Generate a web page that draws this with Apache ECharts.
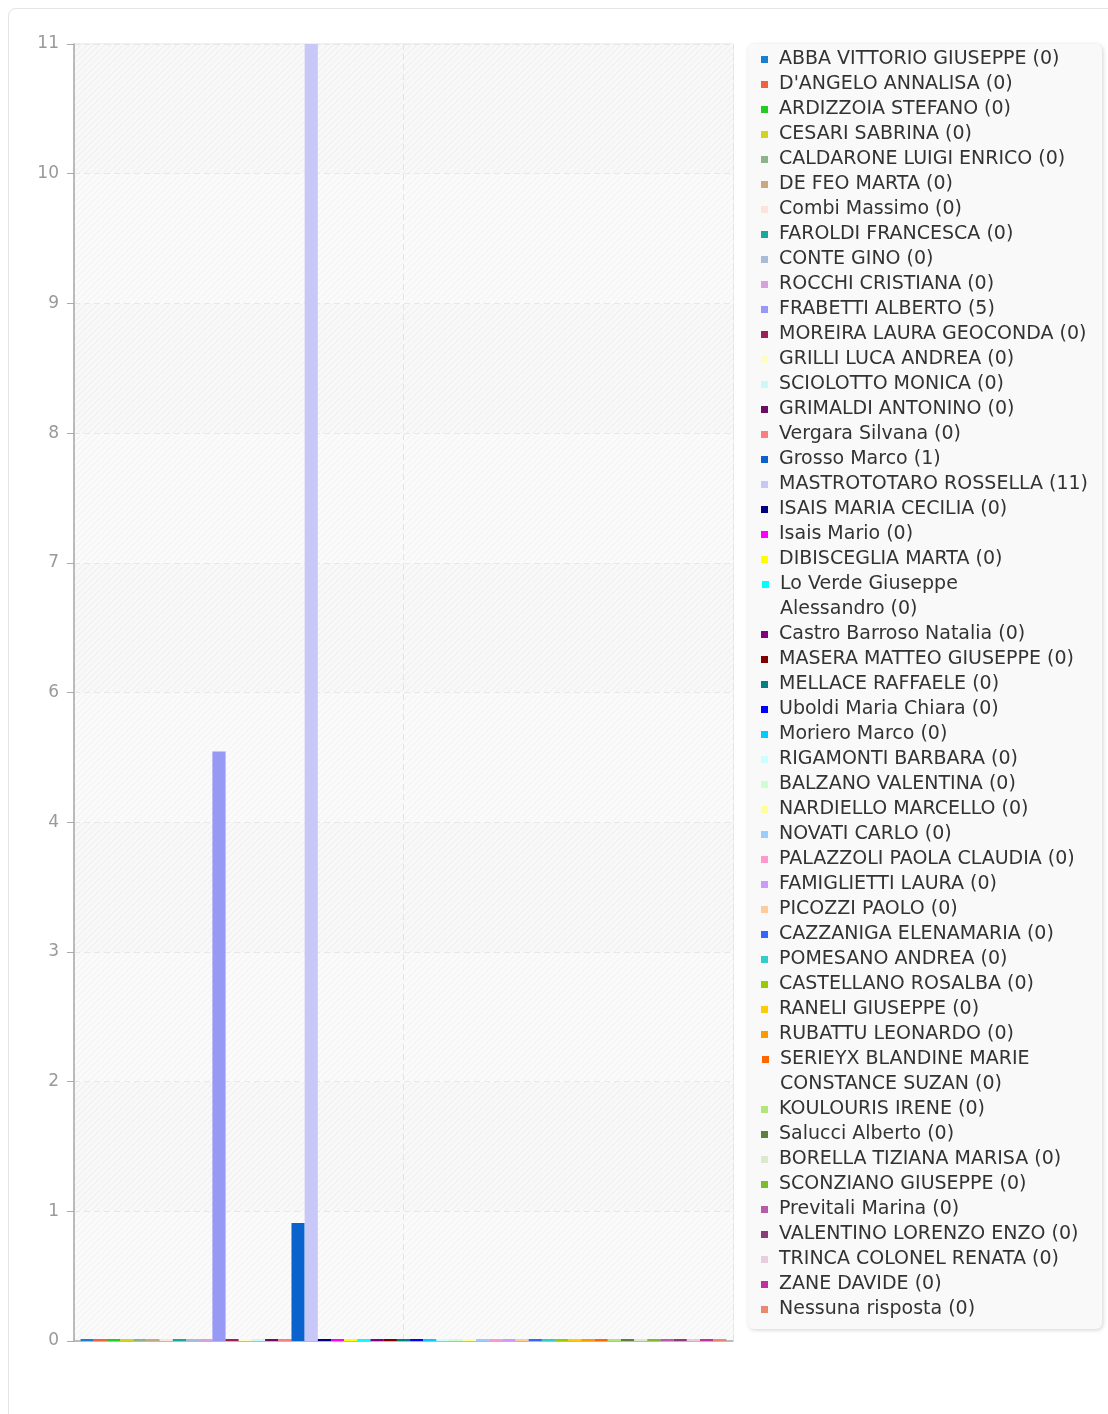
<!DOCTYPE html>
<html>
<head>
<meta charset="utf-8">
<title>Risposte</title>
<script src="https://cdn.jsdelivr.net/npm/echarts@6/dist/echarts.min.js"></script>
<style>
  html, body { margin: 0; padding: 0; background: #fff; }
  #frame { position: absolute; left: 8px; top: 8px; width: 1130px; height: 1440px;
           border: 1px solid #e4e4e4; border-radius: 8px; box-sizing: border-box; }
  #chart { position: absolute; left: 0; top: 0; width: 1108px; height: 1414px; }
</style>
</head>
<body>
<div id="frame"></div>
<div id="chart"></div>
<script>
var names = [
  'ABBA VITTORIO GIUSEPPE', "D'ANGELO ANNALISA", 'ARDIZZOIA STEFANO', 'CESARI SABRINA',
  'CALDARONE LUIGI ENRICO', 'DE FEO MARTA', 'Combi Massimo', 'FAROLDI FRANCESCA',
  'CONTE GINO', 'ROCCHI CRISTIANA', 'FRABETTI ALBERTO', 'MOREIRA LAURA GEOCONDA',
  'GRILLI LUCA ANDREA', 'SCIOLOTTO MONICA', 'GRIMALDI ANTONINO', 'Vergara Silvana',
  'Grosso Marco', 'MASTROTOTARO ROSSELLA', 'ISAIS MARIA CECILIA', 'Isais Mario',
  'DIBISCEGLIA MARTA', 'Lo Verde Giuseppe Alessandro', 'Castro Barroso Natalia',
  'MASERA MATTEO GIUSEPPE', 'MELLACE RAFFAELE', 'Uboldi Maria Chiara', 'Moriero Marco',
  'RIGAMONTI BARBARA', 'BALZANO VALENTINA', 'NARDIELLO MARCELLO', 'NOVATI CARLO',
  'PALAZZOLI PAOLA CLAUDIA', 'FAMIGLIETTI LAURA', 'PICOZZI PAOLO', 'CAZZANIGA ELENAMARIA',
  'POMESANO ANDREA', 'CASTELLANO ROSALBA', 'RANELI GIUSEPPE', 'RUBATTU LEONARDO',
  'SERIEYX BLANDINE MARIE CONSTANCE SUZAN', 'KOULOURIS IRENE', 'Salucci Alberto',
  'BORELLA TIZIANA MARISA', 'SCONZIANO GIUSEPPE', 'Previtali Marina',
  'VALENTINO LORENZO ENZO', 'TRINCA COLONEL RENATA', 'ZANE DAVIDE', 'Nessuna risposta'
];
var values = [
  0, 0, 0, 0, 0, 0, 0, 0, 0, 0, 5, 0, 0, 0, 0, 0,
  1, 11, 0, 0, 0, 0, 0, 0, 0, 0, 0, 0, 0, 0, 0, 0,
  0, 0, 0, 0, 0, 0, 0, 0, 0, 0, 0, 0, 0, 0, 0, 0, 0
];
var colors = [
  '#1a7fd0', '#f0643c', '#22cc22', '#d4d41c', '#8cb48c', '#c8a882', '#fce4dc', '#1aa89c',
  '#a8bcd8', '#d8a0dc', '#9898f5', '#9c2058', '#fcfcc4', '#ccf8f8', '#6c0c64', '#f88080',
  '#0a62cc', '#c8c8f8', '#000080', '#ff00ff', '#ffff00', '#00ffff', '#800080', '#800000',
  '#008080', '#0000ff', '#00ccff', '#ccffff', '#ccffcc', '#ffff99', '#99ccff', '#ff99cc',
  '#cc99ff', '#ffcc99', '#3366ff', '#33cccc', '#99cc00', '#ffcc00', '#ff9900', '#ff6600',
  '#b3e67a', '#5f7f3f', '#dde8d0', '#7cbb2c', '#b95ca8', '#8a3e78', '#e8cce0', '#c030a0',
  '#e88a70'
];
var categories = [''];
var yMax = 11;
var yStep = 1.1;

// striped background tile
function hatch(bg, fg) {
  var c = document.createElement('canvas');
  c.width = 6; c.height = 6;
  var g = c.getContext('2d');
  g.fillStyle = bg;
  g.fillRect(0, 0, 6, 6);
  g.strokeStyle = fg;
  g.lineWidth = 1.4;
  g.beginPath();
  g.moveTo(-1, 7); g.lineTo(7, -1);
  g.moveTo(-1, 1); g.lineTo(1, -1);
  g.moveTo(5, 7); g.lineTo(7, 5);
  g.stroke();
  return { image: c, repeat: 'repeat' };
}

// long labels go on two lines, with the marker beside the first line
function isLong(s) { return s.length > 28; }
function splitAt(s) { return s.lastIndexOf(' ', 22); }

var legendData = names.map(function (n, i) {
  var label = n + ' (' + values[i] + ')';
  if (!isLong(label)) return { name: n };
  return {
    name: n,
    icon: 'none',
    textStyle: {
      padding: [0, 0, 0, -11],
      rich: {
        ic: { width: 7, height: 7, backgroundColor: colors[i] },
        g: { width: 11 },
        g2: { width: 18 }
      }
    }
  };
});

var myChart = echarts.init(document.getElementById('chart'));

var option = {
  animation: false,
  grid: {
    left: 74, right: 375, top: 44, bottom: 73,
    show: true, borderColor: '#dedede', borderWidth: 1, backgroundColor: 'transparent'
  },
  legend: {
    orient: 'vertical',
    left: 748,
    top: 44,
    padding: [3, 14, 7, 13],
    backgroundColor: '#f9f9f9',
    borderRadius: 6,
    shadowColor: 'rgba(0,0,0,0.18)',
    shadowBlur: 4,
    shadowOffsetX: 1,
    shadowOffsetY: 1,
    icon: 'rect',
    itemWidth: 7,
    itemHeight: 7,
    itemGap: 0,
    selectedMode: false,
    textStyle: {
      fontFamily: 'DejaVu Sans',
      fontSize: 19,
      color: '#333',
      lineHeight: 25,
      padding: [0, 0, 0, 6]
    },
    formatter: function (name) {
      var i = names.indexOf(name);
      var label = name + ' (' + values[i] + ')';
      if (!isLong(label)) return label;
      var cut = splitAt(label);
      return '{ic|}{g|}' + label.slice(0, cut) + '\n{g2|}' + label.slice(cut + 1);
    },
    data: legendData
  },
  xAxis: [{
    type: 'category',
    data: categories,
    axisLine: { lineStyle: { color: '#aaa', width: 1.5 } },
    axisTick: { show: false },
    axisLabel: { show: false },
    splitLine: { show: false }
  }, {
    type: 'value',
    min: 0, max: 2, interval: 1,
    position: 'top',
    axisLine: { show: false },
    axisTick: { show: false },
    axisLabel: { show: false },
    splitLine: { show: true, lineStyle: { color: '#e4e4e4', type: [6, 4] } }
  }],
  yAxis: {
    type: 'value',
    min: 0,
    max: yMax,
    interval: yStep,
    axisLine: { show: true, lineStyle: { color: '#aaa', width: 1.5 } },
    axisTick: { show: true, length: 7, lineStyle: { color: '#aaa' } },
    axisLabel: {
      color: '#999', fontSize: 17, fontFamily: 'DejaVu Sans', margin: 15,
      formatter: function (v) { return Math.round(v); }
    },
    splitLine: { lineStyle: { color: '#e8e8e8', type: [6, 4] } },
    splitArea: {
      show: true,
      areaStyle: { color: [hatch('#fbfbfb', '#f5f5f5'), hatch('#f9f9f9', '#f1f1f1')] }
    }
  },
  series: names.map(function (n, i) {
    return {
      name: n,
      type: 'bar',
      xAxisIndex: 0,
      data: [values[i]],
      barGap: 0,
      barCategoryGap: '2%',
      barMinHeight: 2,
      itemStyle: { color: colors[i] }
    };
  })
};

myChart.setOption(option);
</script>
</body>
</html>
